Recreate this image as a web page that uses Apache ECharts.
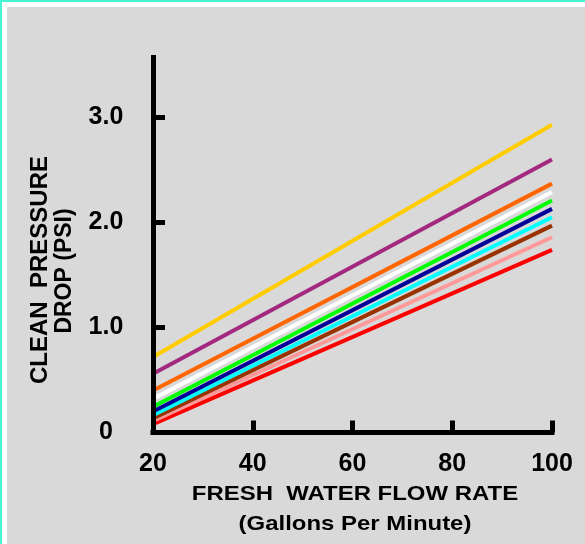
<!DOCTYPE html>
<html>
<head>
<meta charset="utf-8">
<script src="https://cdn.jsdelivr.net/npm/echarts@6/dist/echarts.min.js"></script>
<style>
  html, body { margin: 0; padding: 0; width: 585px; height: 544px; overflow: hidden; }
  #teal { position: absolute; left: 0; top: 0; width: 585px; height: 544px; background: #48f5d2; }
  #white { position: absolute; left: 2px; top: 2px; right: 0; bottom: 0; background: #ffffff; }
  #grey { position: absolute; left: 7px; top: 7px; right: 0; bottom: 0; background: #d9d9d9; }
  #chart { position: absolute; left: 0; top: 0; width: 585px; height: 544px; }
</style>
</head>
<body>
<div id="teal"><div id="white"></div><div id="grey"></div></div>
<div id="chart"></div>
<script>
// Flow rate endpoints (gallons per minute)
const flowRates = [20, 100];
// Clean pressure drop (PSI) at 20 and 100 GPM for each line, top to bottom
const yellowLine = [0.72, 2.93];
const purpleLine = [0.56, 2.60];
const orangeLine = [0.40, 2.37];
const whiteLine  = [0.32, 2.29];
const greenLine  = [0.245, 2.21];
const navyLine   = [0.20, 2.13];
const cyanLine   = [0.165, 2.05];
const brownLine  = [0.135, 1.97];
const pinkLine   = [0.11, 1.86];
const redLine    = [0.08, 1.74];
const xTicks = [20, 40, 60, 80, 100];
const yTicks = [0, 1, 2, 3];
const yTickLabels = ['0', '1.0', '2.0', '3.0'];

const lines = [
  { name: 'red', vals: redLine, color: '#ff0000' },
  { name: 'pink', vals: pinkLine, color: '#ff9999' },
  { name: 'brown', vals: brownLine, color: '#993300' },
  { name: 'cyan', vals: cyanLine, color: '#00ffff' },
  { name: 'navy', vals: navyLine, color: '#000099' },
  { name: 'green', vals: greenLine, color: '#00ff00' },
  { name: 'white', vals: whiteLine, color: '#ffffff' },
  { name: 'orange', vals: orangeLine, color: '#ff6600' },
  { name: 'purple', vals: purpleLine, color: '#a3287f' },
  { name: 'yellow', vals: yellowLine, color: '#ffcc00' }
];

const FONT = "'Liberation Sans', Arial, Helvetica, sans-serif";
const chart = echarts.init(document.getElementById('chart'), null, { renderer: 'canvas' });

chart.setOption({
  backgroundColor: 'transparent',
  animation: false,
  grid: { left: 153, right: 33, top: 57.5, bottom: 111.5, containLabel: false },
  xAxis: {
    type: 'value', min: 20, max: 100, interval: 20, z: 5,
    axisLine: { show: true, lineStyle: { color: '#000', width: 5, cap: 'square' } },
    axisTick: { show: true, inside: true, length: 12, lineStyle: { color: '#000', width: 5 } },
    axisLabel: { show: true, margin: 19, color: '#000', fontFamily: FONT, fontWeight: 'bold', fontSize: 25 },
    splitLine: { show: false }
  },
  yAxis: {
    type: 'value', min: 0, max: 3.5714, z: 5,
    axisLine: { show: true, lineStyle: { color: '#000', width: 5, cap: 'square' } },
    axisTick: { show: true, inside: true, length: 12, customValues: yTicks, lineStyle: { color: '#000', width: 5 } },
    axisLabel: {
      show: true, customValues: yTicks, margin: 47, align: 'center',
      color: '#000', fontFamily: FONT, fontWeight: 'bold', fontSize: 25,
      formatter: function (v) { const i = yTicks.indexOf(v); return i >= 0 ? yTickLabels[i] : ''; }
    },
    splitLine: { show: false }
  },
  series: lines.map(function (l) {
    return {
      type: 'line', name: l.name, z: 2,
      data: flowRates.map(function (x, i) { return [x, l.vals[i]]; }),
      showSymbol: false, symbol: 'none',
      lineStyle: { color: l.color, width: 4 },
      emphasis: { disabled: true }
    };
  }),
  graphic: [
    {
      type: 'text', x: 355, y: 494, scaleX: 1.14,
      style: { text: 'FRESH  WATER FLOW RATE', fill: '#000', font: "bold 21px " + FONT, textAlign: 'center', textVerticalAlign: 'middle' }
    },
    {
      type: 'text', x: 355, y: 524, scaleX: 1.14,
      style: { text: '(Gallons Per Minute)', fill: '#000', font: "bold 21px " + FONT, textAlign: 'center', textVerticalAlign: 'middle' }
    },
    {
      type: 'text', x: 40, y: 270, rotation: Math.PI / 2,
      style: { text: 'CLEAN  PRESSURE', fill: '#000', font: "bold 24px " + FONT, textAlign: 'center', textVerticalAlign: 'middle' }
    },
    {
      type: 'text', x: 65, y: 271, rotation: Math.PI / 2,
      style: { text: 'DROP (PSI)', fill: '#000', font: "bold 23px " + FONT, textAlign: 'center', textVerticalAlign: 'middle' }
    }
  ]
});
</script>
</body>
</html>
